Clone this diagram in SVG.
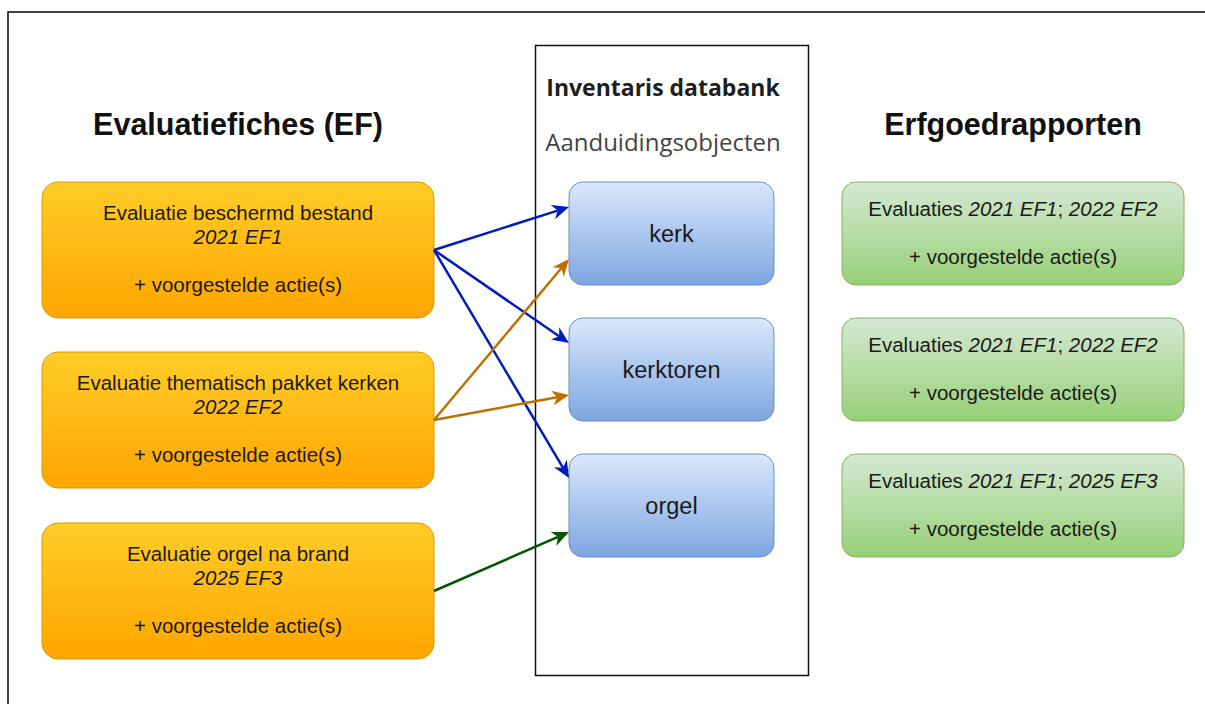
<svg xmlns="http://www.w3.org/2000/svg" width="1205" height="704" viewBox="0 0 1205 704">
  <style>
    .t { font-family: "Liberation Sans", Arial, sans-serif; font-size: 20.5px; fill: #1a1a1a; text-anchor: middle; }
    .big { font-size: 23.5px; }
    .i { font-style: italic; }
    .title { font-family: "Liberation Sans", Arial, sans-serif; font-size: 30.5px; font-weight: bold; fill: #111; text-anchor: middle; }
    .hdr { font-family: "Open Sans", "Liberation Sans", sans-serif; text-anchor: middle; }
    .ef { fill: url(#gOrange); stroke: #d79b00; stroke-width: 1; }
    .obj { fill: url(#gBlue); stroke: #6c8ebf; stroke-width: 1; }
    .rep { fill: url(#gGreen); stroke: #82b366; stroke-width: 1; }
    .c { fill: none; stroke-width: 2.5; }
  </style>
  <defs>
    <linearGradient id="gOrange" x1="0" y1="0" x2="0" y2="1">
      <stop offset="0" stop-color="#ffcd28"/>
      <stop offset="1" stop-color="#ffa500"/>
    </linearGradient>
    <linearGradient id="gBlue" x1="0" y1="0" x2="0" y2="1">
      <stop offset="0" stop-color="#dae8fc"/>
      <stop offset="1" stop-color="#7ea6e0"/>
    </linearGradient>
    <linearGradient id="gGreen" x1="0" y1="0" x2="0" y2="1">
      <stop offset="0" stop-color="#d5e8d4"/>
      <stop offset="1" stop-color="#97d077"/>
    </linearGradient>
    <marker id="aBlue" viewBox="0 0 18 15" markerWidth="18" markerHeight="15" refX="5" refY="7.5" orient="auto" markerUnits="userSpaceOnUse">
      <path d="M17,7.5 L0,0 L5,7.5 L0,15 Z" fill="#001dbc"/>
    </marker>
    <marker id="aOrange" viewBox="0 0 18 15" markerWidth="18" markerHeight="15" refX="5" refY="7.5" orient="auto" markerUnits="userSpaceOnUse">
      <path d="M17,7.5 L0,0 L5,7.5 L0,15 Z" fill="#bd7000"/>
    </marker>
    <marker id="aGreen" viewBox="0 0 18 15" markerWidth="18" markerHeight="15" refX="5" refY="7.5" orient="auto" markerUnits="userSpaceOnUse">
      <path d="M17,7.5 L0,0 L5,7.5 L0,15 Z" fill="#005700"/>
    </marker>
  </defs>

  <rect width="1205" height="704" fill="#ffffff"/>
  <rect id="frame" x="8" y="12" width="1210" height="710" fill="none" stroke="#000" stroke-width="1.5"/>

  <g id="databank">
    <rect x="535.5" y="45.5" width="273" height="630" fill="#ffffff" stroke="#111" stroke-width="1.5"/>
    <text class="hdr" x="663" y="96" font-size="23" font-weight="bold" fill="#1e1e1e">Inventaris databank</text>
    <text class="hdr" x="663" y="151" font-size="24" fill="#444">Aanduidingsobjecten</text>
  </g>

  <text id="title-ef" class="title" x="238" y="135">Evaluatiefiches (EF)</text>
  <text id="title-rep" class="title" x="1013" y="135">Erfgoedrapporten</text>

  <g id="ef1">
    <rect class="ef" x="42" y="182" width="392" height="136" rx="16"/>
    <text class="t" x="238" y="220">Evaluatie beschermd bestand</text>
    <text class="t i" x="238" y="244">2021 EF1</text>
    <text class="t" x="238" y="292">+ voorgestelde actie(s)</text>
  </g>
  <g id="ef2">
    <rect class="ef" x="42" y="352" width="392" height="136" rx="16"/>
    <text class="t" x="238" y="390">Evaluatie thematisch pakket kerken</text>
    <text class="t i" x="238" y="414">2022 EF2</text>
    <text class="t" x="238" y="462">+ voorgestelde actie(s)</text>
  </g>
  <g id="ef3">
    <rect class="ef" x="42" y="523" width="392" height="136" rx="16"/>
    <text class="t" x="238" y="561">Evaluatie orgel na brand</text>
    <text class="t i" x="238" y="585">2025 EF3</text>
    <text class="t" x="238" y="633">+ voorgestelde actie(s)</text>
  </g>

  <g id="kerk">
    <rect class="obj" x="569" y="182" width="205" height="103" rx="14"/>
    <text class="t big" x="671.5" y="242">kerk</text>
  </g>
  <g id="kerktoren">
    <rect class="obj" x="569" y="318" width="205" height="103" rx="14"/>
    <text class="t big" x="671.5" y="378">kerktoren</text>
  </g>
  <g id="orgel">
    <rect class="obj" x="569" y="454" width="205" height="103" rx="14"/>
    <text class="t big" x="671.5" y="514">orgel</text>
  </g>

  <g id="rep1">
    <rect class="rep" x="842" y="182" width="342" height="103" rx="14"/>
    <text class="t" x="1013" y="216">Evaluaties <tspan class="i">2021 EF1</tspan>; <tspan class="i">2022 EF2</tspan></text>
    <text class="t" x="1013" y="264">+ voorgestelde actie(s)</text>
  </g>
  <g id="rep2">
    <rect class="rep" x="842" y="318" width="342" height="103" rx="14"/>
    <text class="t" x="1013" y="352">Evaluaties <tspan class="i">2021 EF1</tspan>; <tspan class="i">2022 EF2</tspan></text>
    <text class="t" x="1013" y="400">+ voorgestelde actie(s)</text>
  </g>
  <g id="rep3">
    <rect class="rep" x="842" y="454" width="342" height="103" rx="14"/>
    <text class="t" x="1013" y="488">Evaluaties <tspan class="i">2021 EF1</tspan>; <tspan class="i">2025 EF3</tspan></text>
    <text class="t" x="1013" y="536">+ voorgestelde actie(s)</text>
  </g>

  <g id="connectors">
    <line class="c" x1="434" y1="250" x2="557.6" y2="210.6" stroke="#001dbc" marker-end="url(#aBlue)"/>
    <line class="c" x1="434" y1="250" x2="559.1" y2="336.2" stroke="#001dbc" marker-end="url(#aBlue)"/>
    <line class="c" x1="434" y1="250" x2="562.9" y2="467.7" stroke="#001dbc" marker-end="url(#aBlue)"/>
    <line class="c" x1="434" y1="420" x2="561.3" y2="268.2" stroke="#bd7000" marker-end="url(#aOrange)"/>
    <line class="c" x1="434" y1="420" x2="557.2" y2="397.2" stroke="#bd7000" marker-end="url(#aOrange)"/>
    <line class="c" x1="434" y1="591" x2="558" y2="536.8" stroke="#005700" marker-end="url(#aGreen)"/>
  </g>
</svg>
